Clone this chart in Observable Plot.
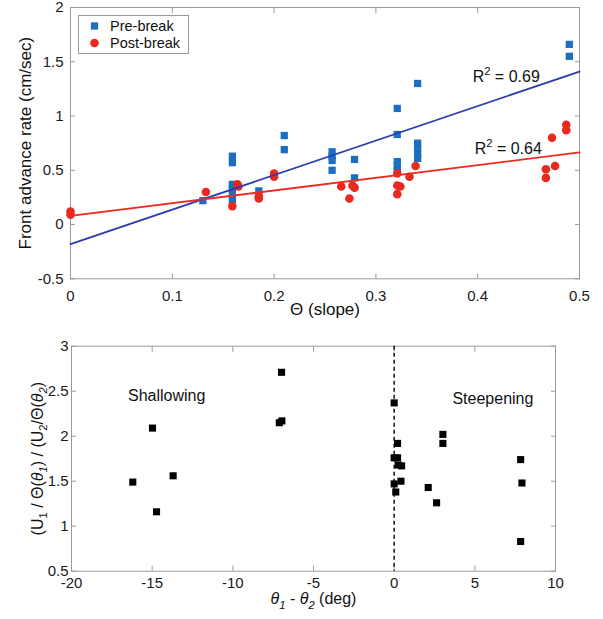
<!DOCTYPE html>
<html><head><meta charset="utf-8">
<script src="https://cdn.jsdelivr.net/npm/d3@7"></script>
<script src="https://cdn.jsdelivr.net/npm/@observablehq/plot@0.6"></script>
<style>
body{margin:0;background:#fff;}
#chart svg{display:block;}
</style></head><body><div id="chart"></div>
<script>
// ---------- Top panel data ----------
const preX = [0.130, 0.159, 0.159, 0.159, 0.159, 0.159, 0.159, 0.185, 0.210, 0.210,
              0.257, 0.257, 0.257, 0.257, 0.279, 0.279, 0.321, 0.321, 0.321, 0.321, 0.321,
              0.341, 0.341, 0.341, 0.341, 0.341, 0.490, 0.490];
const preY = [0.22, 0.63, 0.57, 0.37, 0.33, 0.28, 0.23, 0.31, 0.82, 0.69,
              0.67, 0.63, 0.59, 0.50, 0.60, 0.43, 1.07, 0.83, 0.58, 0.54, 0.50,
              1.30, 0.75, 0.70, 0.65, 0.61, 1.66, 1.55];
const postX = [0, 0, 0.133, 0.159, 0.164, 0.165, 0.185, 0.185, 0.200, 0.200,
               0.266, 0.274, 0.277, 0.279, 0.321, 0.321, 0.324, 0.321, 0.333, 0.339,
               0.467, 0.467, 0.473, 0.476, 0.487, 0.487];
const postY = [0.12, 0.09, 0.30, 0.17, 0.37, 0.35, 0.26, 0.24, 0.47, 0.44,
               0.35, 0.24, 0.36, 0.34, 0.47, 0.36, 0.35, 0.28, 0.44, 0.54,
               0.51, 0.43, 0.80, 0.54, 0.92, 0.87];
const fitX = [0, 0.5];
const preFitY = [-0.18, 1.41];
const postFitY = [0.08, 0.665];
const r2Text = ["R² = 0.69", "R² = 0.64"];
const r2X = [0.428, 0.430];
const r2Y = [1.36, 0.70];
const topXTicks = [0, 0.1, 0.2, 0.3, 0.4, 0.5];
const topYTicks = [-0.5, 0, 0.5, 1, 1.5, 2];
const seriesNames = ["Pre-break", "Post-break"];
const topXLabel = "Θ (slope)";
const topYLabel = "Front advance rate (cm/sec)";

// ---------- Bottom panel data ----------
const diffX = [-16.2, -14.98, -13.7, -14.73, -6.98, -7.12, -6.96, 0, 0.21, 0, 0.21, 0.25, 0.46,
               0, 0.42, 0.1, 2.11, 2.63, 3.02, 3.02, 7.84, 7.92, 7.84];
const ratioY = [1.49, 2.09, 1.56, 1.16, 2.71, 2.15, 2.17, 2.37, 1.92, 1.76, 1.76, 1.68, 1.67,
                1.47, 1.50, 1.38, 1.43, 1.26, 2.02, 1.92, 1.74, 1.48, 0.83];
const botXTicks = [-20, -15, -10, -5, 0, 5, 10];
const botYTicks = [0.5, 1, 1.5, 2, 2.5, 3];
const regionText = ["Shallowing", "Steepening"];
const regionX = [-14.1, 6.12];
const regionY = [2.45, 2.42];
const botXLabel = "θ1 - θ2 (deg)";
const botYLabel = "(U1 / Θ(θ1) / (U2/Θ(θ2)";

// ---------- styles ----------
const gray = "#9a9a9a";
const blue = "#1b6fbf";
const red = "#e8291f";
const blueLine = "#2b3dae";
const redLine = "#ee2b22";
const font = "'Liberation Sans', Arial, Helvetica, sans-serif";
const fmt = d => String(d);
const blank = () => "";

const preData = preX.map((x, i) => ({x, y: preY[i]}));
const postData = postX.map((x, i) => ({x, y: postY[i]}));
const preFit = fitX.map((x, i) => ({x, y: preFitY[i]}));
const postFit = fitX.map((x, i) => ({x, y: postFitY[i]}));
const r2Data = r2Text.map((t, i) => ({t, x: r2X[i], y: r2Y[i]}));
const botData = diffX.map((x, i) => ({x, y: ratioY[i]}));
const regionData = regionText.map((t, i) => ({t, x: regionX[i], y: regionY[i]}));

function frameAxes(xt, yt, xPad, yPad) {
  return [
    Plot.frame({stroke: gray}),
    Plot.axisX(xt, {anchor: "bottom", tickSize: 0, tickPadding: xPad, label: null, tickFormat: fmt, fill: "#1a1a1a"}),
    Plot.axisX(xt, {anchor: "bottom", tickSize: -5, tickFormat: blank, label: null, stroke: gray}),
    Plot.axisX(xt, {anchor: "top", tickSize: -5, tickFormat: blank, label: null, stroke: gray}),
    Plot.axisY(yt, {anchor: "left", tickSize: 0, tickPadding: yPad, label: null, tickFormat: fmt, fill: "#1a1a1a"}),
    Plot.axisY(yt, {anchor: "left", tickSize: -5, tickFormat: blank, label: null, stroke: gray}),
    Plot.axisY(yt, {anchor: "right", tickSize: -5, tickFormat: blank, label: null, stroke: gray})
  ];
}

const topPlot = Plot.plot({
  width: 603, height: 330,
  marginLeft: 70, marginRight: 24, marginTop: 7, marginBottom: 51.7,
  x: {domain: [0, 0.5]},
  y: {domain: [-0.5, 2]},
  style: {fontFamily: font, fontSize: "15px", color: "#1a1a1a", background: "white", overflow: "visible"},
  marks: [
    ...frameAxes(topXTicks, topYTicks, 12, 7),
    Plot.dot(preData, {x: "x", y: "y", symbol: "square", r: 4.1, fill: blue}),
    Plot.dot(postData, {x: "x", y: "y", symbol: "circle", r: 4.3, fill: red}),
    Plot.line(preFit, {x: "x", y: "y", stroke: blueLine, strokeWidth: 1.8}),
    Plot.line(postFit, {x: "x", y: "y", stroke: redLine, strokeWidth: 1.8}),
    Plot.text(r2Data, {x: "x", y: "y", text: "t", fontSize: 16, fill: "#111"}),
    Plot.text([topXLabel], {text: d => d, frameAnchor: "bottom", textAnchor: "middle", dy: 36, fontSize: 17, fill: "#111"}),
    Plot.text([topYLabel], {text: d => d, frameAnchor: "left", textAnchor: "middle", dx: -45, rotate: -90, fontSize: 17, fill: "#111"})
  ]
});

const bottomPlot = Plot.plot({
  width: 603, height: 289,
  marginLeft: 71, marginRight: 48, marginTop: 15.7, marginBottom: 48.3,
  x: {domain: [-20, 10]},
  y: {domain: [0.5, 3]},
  style: {fontFamily: font, fontSize: "15px", color: "#1a1a1a", background: "white", overflow: "visible"},
  marks: [
    ...frameAxes(botXTicks, botYTicks, 6, 3),
    Plot.ruleX([0], {stroke: "#111", strokeWidth: 1.5, strokeDasharray: "4,3"}),
    Plot.dot(botData, {x: "x", y: "y", symbol: "square", r: 4, fill: "#000"}),
    Plot.text(regionData, {x: "x", y: "y", text: "t", fontSize: 16, fill: "#111"}),
    Plot.text([botXLabel], {text: d => d, frameAnchor: "bottom", textAnchor: "middle", dy: 33, fontSize: 16, fill: "#111"}),
    Plot.text([botYLabel], {text: d => d, frameAnchor: "left", textAnchor: "middle", dx: -34, rotate: -90, fontSize: 16, fill: "#111"})
  ]
});

// rich text: segments [text, kind]; kind: n, i, sub, isub, sup
function richify(svg, key, segs, base) {
  d3.select(svg).selectAll("text").filter(function() { return this.textContent === key; }).each(function() {
    const t = d3.select(this);
    t.text(null);
    let shift = 0;
    for (const [s, kind] of segs) {
      const target = kind.includes("sub") ? 0.28 * base : kind.includes("sup") ? -0.42 * base : 0;
      const ts = t.append("tspan").text(s).attr("dy", target - shift);
      shift = target;
      if (kind.includes("sub") || kind.includes("sup")) ts.attr("font-size", (0.7 * base) + "px");
      if (kind.includes("i")) ts.attr("font-style", "italic");
    }
  });
}
richify(topPlot, "R² = 0.69", [["R", "n"], ["2", "sup"], [" = 0.69", "n"]], 16);
richify(topPlot, "R² = 0.64", [["R", "n"], ["2", "sup"], [" = 0.64", "n"]], 16);
richify(bottomPlot, botXLabel, [["θ", "i"], ["1", "isub"], [" - ", "n"], ["θ", "i"], ["2", "isub"], [" (deg)", "n"]], 16);
richify(bottomPlot, botYLabel, [["(U", "n"], ["1", "sub"], [" / Θ(", "n"], ["θ", "i"], ["1", "isub"], [") / (U", "n"], ["2", "sub"], ["/Θ(", "n"], ["θ", "i"], ["2", "isub"], [")", "n"]], 16);

// legend box in the top panel
const lg = d3.select(topPlot).append("g").attr("font-family", font).attr("font-size", "14.5px")
  .attr("fill", "#111").attr("text-anchor", "start");
lg.append("rect").attr("x", 78.5).attr("y", 15.5).attr("width", 110).attr("height", 38)
  .attr("fill", "white").attr("stroke", gray);
const symS = d3.symbol(d3.symbolSquare, Math.PI * 4.1 * 4.1)();
const symC = d3.symbol(d3.symbolCircle, Math.PI * 4.3 * 4.3)();
lg.append("path").attr("d", symS).attr("transform", "translate(94.5,26)").attr("fill", blue);
lg.append("path").attr("d", symC).attr("transform", "translate(94.5,43)").attr("fill", red);
lg.append("text").attr("x", 110).attr("y", 26).attr("dy", "0.35em").attr("text-anchor", "start").text(seriesNames[0]);
lg.append("text").attr("x", 110).attr("y", 43).attr("dy", "0.35em").attr("text-anchor", "start").text(seriesNames[1]);

document.getElementById("chart").append(topPlot, bottomPlot);
</script>
</body></html>
